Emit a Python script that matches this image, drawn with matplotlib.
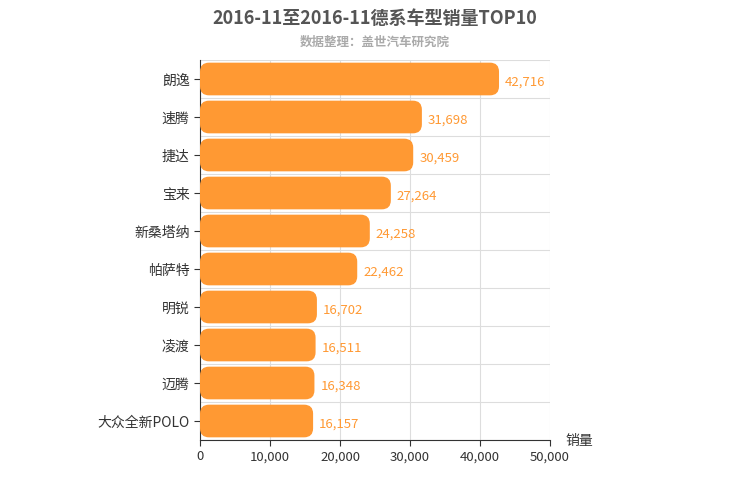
import matplotlib
matplotlib.use("Agg")
import matplotlib.pyplot as plt
from matplotlib.patches import FancyBboxPatch

plt.rcParams['font.family'] = ['Noto Sans CJK SC', 'DejaVu Sans']

models = ["朗逸", "速腾", "捷达", "宝来", "新桑塔纳", "帕萨特", "明锐", "凌渡", "迈腾", "大众全新POLO"]
sales = [42716, 31698, 30459, 27264, 24258, 22462, 16702, 16511, 16348, 16157]

BAR = "#ff9933"

fig = plt.figure(figsize=(7.5, 5), dpi=100)
ax = fig.add_axes([200 / 750, 60 / 500, 350 / 750, 380 / 500])
n = len(models)
ax.set_xlim(0, 50000)
ax.set_ylim(n - 0.5, -0.5)

xu = 50000 / 350
yu = n / 380
h = 0.86
for i, v in enumerate(sales):
    p = FancyBboxPatch((0, i - h / 2), v, h,
                       boxstyle=f"round,pad=0,rounding_size={9 * xu}",
                       mutation_aspect=yu / xu, fc=BAR, ec="none", zorder=3)
    ax.add_patch(p)
    ax.text(v + 6 * xu, i + 0.08, f"{v:,}", color=BAR, fontsize=9.5,
            va="center", ha="left", zorder=4)

ax.set_xticks(range(0, 50001, 10000))
ax.set_xticklabels([f"{t:,}" for t in range(0, 50001, 10000)], fontsize=9.5, color="#333")
ax.set_yticks(range(n))
ax.set_yticklabels(models, fontsize=10, color="#333")
for k in range(n + 1):
    ax.axhline(k - 0.5, color="#dddddd", lw=0.8, zorder=0)
ax.grid(axis="x", color="#dddddd", lw=0.8, zorder=0)
for s in ["top", "right"]:
    ax.spines[s].set_visible(False)
ax.spines["left"].set_color("#333")
ax.spines["bottom"].set_color("#333")
ax.tick_params(axis="y", length=4, color="#333")
ax.tick_params(axis="x", length=4, color="#333")

fig.text(0.5, 1 - 18 / 500, "2016-11至2016-11德系车型销量TOP10", ha="center", va="center",
         fontsize=13, fontweight="bold", color="#555")
fig.text(0.5, 1 - 42 / 500, "数据整理：盖世汽车研究院", ha="center", va="center",
         fontsize=9, fontweight="bold", color="#aaa")
fig.text(565 / 750, 1 - 441 / 500, "销量", ha="left", va="center", fontsize=10, color="#333")

fig.savefig("out.png", dpi=100)
